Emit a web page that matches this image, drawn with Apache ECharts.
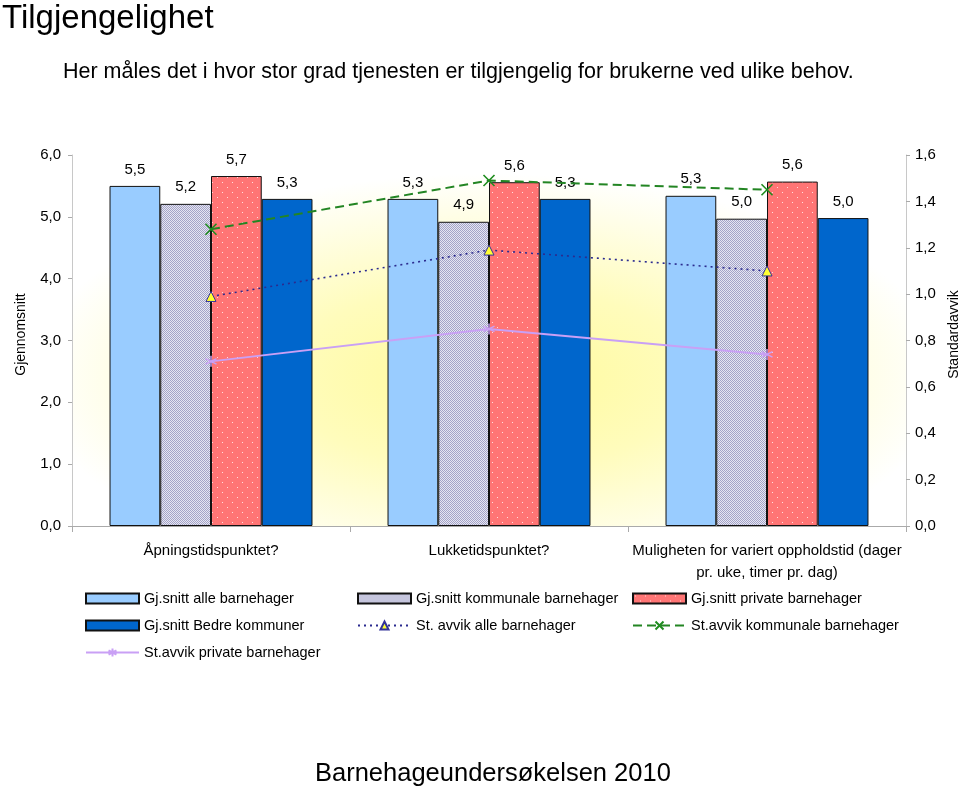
<!DOCTYPE html>
<html>
<head>
<meta charset="utf-8">
<script src="https://cdn.jsdelivr.net/npm/echarts@6/dist/echarts.min.js"></script>
<style>
html,body{margin:0;padding:0;background:#fff;}
#chart{width:960px;height:786px;}
</style>
</head>
<body>
<div id="chart"></div>
<script>
// ---- data ----
var categories = ['Åpningstidspunktet?', 'Lukketidspunktet?', 'Muligheten for variert oppholdstid (dager\npr. uke, timer pr. dag)'];
var snittAlle = [5.50, 5.29, 5.34];
var snittKommunale = [5.21, 4.92, 4.97];
var snittPrivate = [5.66, 5.56, 5.57];
var snittBedre = [5.29, 5.29, 4.98];
var sdAlle = [0.99, 1.19, 1.10];
var sdKommunale = [1.28, 1.49, 1.45];
var sdPrivate = [0.71, 0.85, 0.74];
var leftTicks = {min: 0, max: 6, interval: 1};
var rightTicks = {min: 0, max: 1.6, interval: 0.2};

// ---- layout / style ----
var G = {left: 72, top: 155, width: 834, height: 371};
var FONT = 'Liberation Sans, Arial, sans-serif';

function checkerPattern() {
  var c = document.createElement('canvas'); c.width = 2; c.height = 2;
  var g = c.getContext('2d');
  g.fillStyle = '#e6e6f2'; g.fillRect(0, 0, 2, 2);
  g.fillStyle = '#a4a4c8'; g.fillRect(0, 0, 1, 1); g.fillRect(1, 1, 1, 1);
  return {image: c, repeat: 'repeat'};
}
function dotPattern() {
  var c = document.createElement('canvas'); c.width = 10; c.height = 10;
  var g = c.getContext('2d');
  g.fillStyle = '#ff7575'; g.fillRect(0, 0, 10, 10);
  g.fillStyle = 'rgba(255,225,225,0.95)';
  g.fillRect(2, 2, 1, 1); g.fillRect(7, 7, 1, 1);
  return {image: c, repeat: 'repeat'};
}
var fmt = function (v) { return Number(v).toFixed(1).replace('.', ','); };

var chart = echarts.init(document.getElementById('chart'), null, {renderer: 'canvas'});
var barLabel = {show: true, position: 'top', distance: 9, color: '#000', fontSize: 15, fontFamily: FONT,
  formatter: function (p) { return fmt(p.value); }};
var barBorder = {borderColor: '#111', borderWidth: 1};
var legendText = {fontSize: 14.5, color: '#000', fontFamily: FONT};

var option = {
  animation: false,
  backgroundColor: '#fff',
  textStyle: {fontFamily: FONT},
  title: [
    {text: 'Tilgjengelighet', left: -3, top: -3, textStyle: {fontSize: 33, fontWeight: 'normal', color: '#000', fontFamily: FONT}},
    {text: 'Her måles det i hvor stor grad tjenesten er tilgjengelig for brukerne ved ulike behov.', left: 58, top: 56,
      textStyle: {fontSize: 21.5, fontWeight: 'normal', color: '#000', fontFamily: FONT}},
    {text: 'Barnehageundersøkelsen 2010', left: 310, top: 756,
      textStyle: {fontSize: 25.5, fontWeight: 'normal', color: '#000', fontFamily: FONT}}
  ],
  graphic: [{
    type: 'rect', z: 0, silent: true,
    x: G.left, y: G.top, scaleY: G.height / G.width,
    shape: {x: 0, y: 0, width: G.width, height: G.width},
    style: {fill: new echarts.graphic.RadialGradient(0.5, 0.6, 0.55, [
      {offset: 0, color: '#fffa99'},
      {offset: 0.45, color: '#fffcbc'},
      {offset: 1, color: '#ffffff'}
    ])}
  }],
  grid: {left: G.left, top: G.top, width: G.width, height: G.height, outerBoundsMode: 'none', containLabel: false},
  legend: [
    {left: 80, top: 586, orient: 'vertical', itemGap: 12, itemWidth: 53, itemHeight: 10, textStyle: legendText,
      data: [{name: 'Gj.snitt alle barnehager', icon: 'rect'}, {name: 'Gj.snitt Bedre kommuner', icon: 'rect'}, 'St.avvik private barnehager']},
    {left: 352, top: 586, orient: 'vertical', itemGap: 12, itemWidth: 53, itemHeight: 10, textStyle: legendText,
      data: [{name: 'Gj.snitt kommunale barnehager', icon: 'rect'}, 'St. avvik alle barnehager']},
    {left: 627, top: 586, orient: 'vertical', itemGap: 12, itemWidth: 53, itemHeight: 10, textStyle: legendText,
      data: [{name: 'Gj.snitt private barnehager', icon: 'rect'}, 'St.avvik kommunale barnehager']}
  ],
  xAxis: {
    type: 'category', data: categories, boundaryGap: true,
    axisLine: {lineStyle: {color: '#aaa'}},
    axisTick: {show: true, length: 6, lineStyle: {color: '#aaa'}},
    axisLabel: {color: '#000', fontSize: 15, fontFamily: FONT, margin: 14, lineHeight: 22, interval: 0}
  },
  yAxis: [
    {type: 'value', min: leftTicks.min, max: leftTicks.max, interval: leftTicks.interval,
      name: 'Gjennomsnitt', nameLocation: 'middle', nameGap: 44, nameRotate: 90,
      nameTextStyle: {fontSize: 14, color: '#000', fontFamily: FONT, padding: [0, 0, 0, 12]},
      axisLine: {show: true, lineStyle: {color: '#c8c8c8'}},
      axisTick: {show: true, length: 4, lineStyle: {color: '#aaa'}},
      splitLine: {show: false},
      axisLabel: {color: '#000', fontSize: 15, fontFamily: FONT, margin: 11, formatter: fmt}},
    {type: 'value', min: rightTicks.min, max: rightTicks.max, interval: rightTicks.interval,
      name: 'Standardavvik', nameLocation: 'middle', nameGap: 40, nameRotate: 90,
      nameTextStyle: {fontSize: 14, color: '#000', fontFamily: FONT, padding: [0, 0, 0, 12]},
      axisLine: {show: true, lineStyle: {color: '#c8c8c8'}},
      axisTick: {show: true, length: 4, lineStyle: {color: '#aaa'}},
      splitLine: {show: false},
      axisLabel: {color: '#000', fontSize: 15, fontFamily: FONT, margin: 9, formatter: fmt}}
  ],
  series: [
    {name: 'Gj.snitt alle barnehager', type: 'bar', data: snittAlle, barGap: '0%', barCategoryGap: '27%',
      itemStyle: Object.assign({color: '#99ccff'}, barBorder), label: barLabel},
    {name: 'Gj.snitt kommunale barnehager', type: 'bar', data: snittKommunale, barGap: '0%', barCategoryGap: '27%',
      itemStyle: Object.assign({color: checkerPattern()}, barBorder), label: barLabel},
    {name: 'Gj.snitt private barnehager', type: 'bar', data: snittPrivate, barGap: '0%', barCategoryGap: '27%',
      itemStyle: Object.assign({color: dotPattern()}, barBorder), label: barLabel},
    {name: 'Gj.snitt Bedre kommuner', type: 'bar', data: snittBedre, barGap: '0%', barCategoryGap: '27%',
      itemStyle: Object.assign({color: '#0066cc'}, barBorder), label: barLabel},
    {name: 'St. avvik alle barnehager', type: 'line', yAxisIndex: 1, data: sdAlle, smooth: false,
      symbol: 'triangle', symbolSize: 10, z: 5,
      lineStyle: {color: '#2b2b8f', width: 1.6, type: [2, 4]},
      itemStyle: {color: '#ffff33', borderColor: '#333399', borderWidth: 1}},
    {name: 'St.avvik kommunale barnehager', type: 'line', yAxisIndex: 1, data: sdKommunale, smooth: false,
      symbol: 'path://M0,0 L10,10 M10,0 L0,10', symbolSize: 11, z: 5,
      lineStyle: {color: '#238523', width: 2, type: [9, 5]},
      itemStyle: {color: 'rgba(0,0,0,0)', borderColor: '#1e8c1e', borderWidth: 1.6}},
    {name: 'St.avvik private barnehager', type: 'line', yAxisIndex: 1, data: sdPrivate, smooth: false,
      symbol: 'path://M5,0 L5,10 M0,2.5 L10,7.5 M0,7.5 L10,2.5', symbolSize: 11, z: 5,
      lineStyle: {color: '#c9a0f5', width: 2},
      itemStyle: {color: 'rgba(0,0,0,0)', borderColor: '#c9a0f5', borderWidth: 1.5}}
  ]
};
chart.setOption(option);
</script>
</body>
</html>
